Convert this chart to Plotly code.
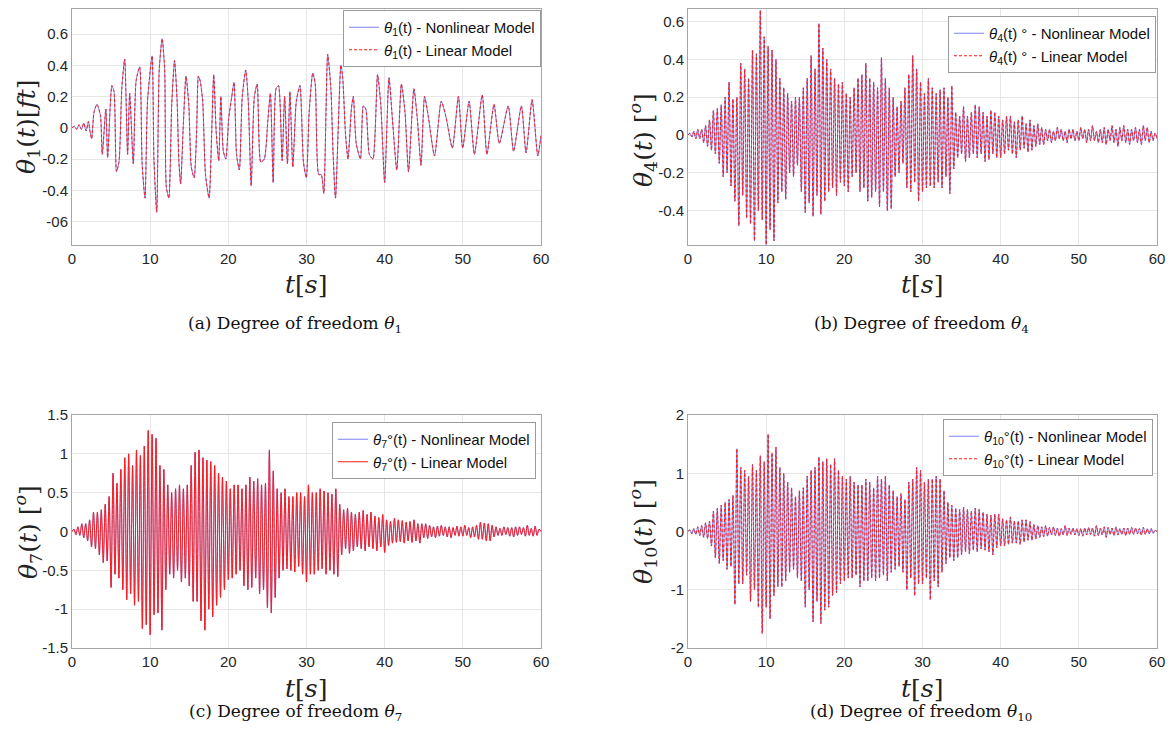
import numpy as np
import plotly.graph_objects as go

# ---------------- data ----------------
t_a = [0, 0.3, 0.6, 0.9, 1.2, 1.5, 1.8, 2.1, 2.3, 2.51,
       2.82, 3.19, 3.64, 3.87, 4.33, 4.56, 5.10, 5.38, 5.69, 6.01,
       6.38, 6.74, 7.11, 7.38, 7.84, 8.20, 8.66, 8.97, 9.34, 9.66,
       10.25, 10.48, 10.84, 11.16, 11.53, 11.85, 12.07, 12.39, 12.76, 13.12,
       13.44, 13.67, 13.90, 14.21, 14.58, 14.94, 15.26, 15.63, 15.95, 16.17,
       16.40, 16.72, 17.08, 17.54, 17.86, 18.13, 18.45, 18.77, 19.04, 19.36,
       19.68, 20.05, 20.41, 20.73, 21.05, 21.41, 21.78, 22.23, 22.55, 22.92,
       23.33, 23.69, 24.15, 24.60, 25.06, 25.38, 25.74, 26.10, 26.42, 26.88,
       27.20, 27.56, 27.88, 28.25, 28.70, 29.16, 29.61, 29.98, 30.34, 30.80,
       31.12, 31.57, 31.89, 32.21, 32.71, 33.12, 33.39, 33.71, 34.40, 34.62,
       34.99, 35.31, 35.76, 35.99, 36.36, 36.90, 37.27, 37.59, 38.04, 38.50,
       39.09, 39.50, 40.00, 40.55, 41.00, 41.55, 42.14, 42.60, 43.05, 43.74,
       44.19, 44.65, 45.10, 45.56, 46.38, 47.24, 47.84, 48.66, 49.43, 49.98,
       50.80, 51.48, 52.48, 53.08, 53.99, 54.67, 55.81, 56.49, 57.49, 58.09,
       58.86, 59.59, 60.0]
theta1 = [0, 0.01, -0.01, 0.02, -0.01, 0.03, -0.02, 0.04, -0.02, -0.07,
          0.10, 0.15, 0.08, -0.17, 0.12, -0.19, 0.27, 0.23, -0.28, -0.22,
          0.26, 0.44, -0.17, 0.22, -0.23, 0.30, 0.39, -0.23, -0.45, 0.17,
          0.46, -0.20, -0.54, 0.37, 0.57, 0.38, -0.38, -0.45, 0.15, 0.43,
          0.18, -0.21, -0.36, -0.02, 0.33, 0.15, -0.25, -0.32, -0.01, 0.33,
          0.30, 0.17, -0.30, -0.45, -0.05, 0.34, -0.03, -0.21, 0.20, -0.15,
          -0.20, 0.06, 0.19, 0.29, -0.17, -0.27, 0.20, 0.37, 0.17, -0.37,
          0.20, 0.28, -0.22, -0.20, 0.05, 0.22, -0.35, 0.25, 0.27, -0.21,
          0.20, -0.23, 0.23, -0.25, 0.17, 0.27, -0.22, -0.32, 0.10, 0.35,
          0.28, -0.30, -0.30, -0.42, 0.47, 0.25, -0.15, -0.45, 0.40, 0.33,
          -0.04, -0.20, 0.13, 0.20, -0.10, -0.20, 0.14, 0.12, -0.17, -0.20,
          0.34, 0.15, -0.35, 0.32, 0.05, -0.27, 0.28, 0.10, -0.28, 0.25,
          0.05, -0.24, 0.20, 0.08, -0.18, 0.17, 0.07, -0.13, 0.20, -0.13,
          0.17, -0.17, 0.21, -0.17, 0.15, -0.10, 0.14, -0.15, 0.14, -0.16,
          0.18, -0.18, -0.05]

# samples every 0.25 s (4 per second) for the dense responses
theta4 = [
    0, .01, -.01, .02,  -.02, .03, -.02, .03,  -.04, .05, -.06, .08,  -.08, .13, -.1, .14,
    -.15, .16, -.22, .2,  -.2, .28, -.27, .19,  -.35, .2, -.48, .38,  -.32, .35, -.44, .3,
    -.47, .45, -.56, .43,  -.4, .66, -.45, .52,  -.58, .47, -.5, .45,  -.56, .4, -.36, .3,
    -.3, .25, -.34, .22,  -.2, .18, -.22, .2,  -.16, .2, -.3, .25,  -.41, .3, -.36, .42,
    -.43, .35, -.32, .59,  -.42, .46, -.35, .4,  -.3, .35, -.28, .3,  -.32, .27, -.25, .28,
    -.27, .22, -.3, .2,  -.22, .25, -.2, .3,  -.3, .32, -.28, .38,  -.35, .3, -.33, .28,
    -.3, .25, -.38, .41,  -.3, .3, -.4, .25,  -.39, .2, -.22, .15,  -.2, .18, -.15, .25,
    -.28, .32, -.3, .42,  -.25, .35, -.35, .28,  -.3, .22, -.28, .3,  -.27, .25, -.28, .22,
    -.25, .24, -.28, .25,  -.22, .2, -.31, .26,  -.18, .12, -.12, .1,  -.1, .15, -.14, .1,
    -.12, .12, -.1, .16,  -.12, .15, -.1, .12,  -.14, .1, -.13, .13,  -.1, .12, -.12, .1,
    -.12, .08, -.1, .1,  -.08, .1, -.1, .07,  -.12, .08, -.08, .1,  -.07, .06, -.09, .08,
    -.08, .05, -.06, .06,  -.05, .04, -.05, .03,  -.03, .03, -.04, .02,  -.03, .04, -.02, .03,
    -.03, .02, -.04, .03,  -.02, .03, -.03, .02,  -.03, .04, -.02, .03,  -.04, .03, -.03, .05,
    -.03, .02, -.04, .03,  -.04, .04, -.05, .03,  -.03, .05, -.04, .03,  -.06, .04, -.03, .05,
    -.04, .03, -.05, .03,  -.03, .04, -.04, .03,  -.05, .05, -.03, .04,  -.04, .02, -.03, .01,
    -.02]

theta7 = [
    0, .03, -.04, .06,  -.05, .1, -.08, .1,  -.12, .15, -.2, .25,  -.22, .25, -.3, .28,
    -.4, .35, -.38, .45,  -.72, .75, -.55, .62,  -.6, .8, -.75, .95,  -.88, 1.0, -.8, .85,
    -.95, 1.05, -.9, .98,  -1.25, 1.1, -1.2, 1.3,  -1.33, 1.25, -1.07, 1.2,  -1.05, .85, -1.27, .8,
    -.75, .6, -.55, .5,  -.6, .55, -.5, .6,  -.65, .55, -.6, .6,  -.7, .85, -.9, 1.02,
    -.9, 1.05, -1.15, .95,  -1.27, .92, -1.0, .9,  -1.1, .85, -.95, .75,  -.85, .7, -.75, .65,
    -.62, .55, -.6, .6,  -.55, .6, -.5, .55,  -.7, .6, -.75, .7,  -.72, .65, -.6, .68,
    -.8, .6, -.75, .62,  -.98, 1.05, -1.05, .78,  -.85, .55, -.6, .5,  -.5, .55, -.48, .45,
    -.5, .45, -.52, .5,  -.45, .5, -.55, .45,  -.65, .6, -.55, .5,  -.55, .5, -.5, .55,
    -.48, .52, -.55, .5,  -.5, .48, -.55, .55,  -.58, .35, -.3, .28,  -.22, .3, -.28, .25,
    -.25, .22, -.2, .25,  -.22, .27, -.25, .22,  -.2, .25, -.22, .2,  -.25, .18, -.2, .22,
    -.27, .15, -.18, .13,  -.15, .17, -.14, .15,  -.13, .14, -.15, .12,  -.12, .13, -.14, .15,
    -.12, .1, -.15, .1,  -.08, .1, -.09, .08,  -.07, .06, -.08, .07,  -.06, .08, -.05, .06,
    -.07, .06, -.08, .05,  -.05, .07, -.06, .06,  -.06, .08, -.05, .05,  -.08, .06, -.07, .08,
    -.1, .12, -.1, .11,  -.12, .1, -.12, .08,  -.07, .06, -.05, .04,  -.05, .06, -.04, .05,
    -.06, .05, -.07, .06,  -.05, .06, -.04, .05,  -.06, .08, -.05, .04,  -.06, .07, -.05, .03,
    0]

theta10 = [
    0, .03, -.04, .05,  -.05, .08, -.07, .1,  -.1, .15, -.12, .18,  -.25, .35, -.45, .4,
    -.55, .45, -.5, .5,  -.65, .55, -.6, .62,  -1.25, 1.42, -.9, 1.1,  -.9, 1.05, -.75, .95,
    -1.2, 1.15, -1.0, 1.05,  -1.3, 1.3, -1.75, 1.2,  -1.3, 1.67, -1.5, 1.35,  -1.1, 1.45, -.95, 1.1,
    -.95, 1.0, -.85, .85,  -.7, .75, -.65, .6,  -.8, .7, -.85, .75,  -1.3, .95, -1.0, 1.05,
    -1.55, 1.1, -1.2, 1.28,  -1.58, 1.2, -1.35, 1.25,  -1.3, 1.15, -1.1, 1.25,  -1.05, 1.05, -.9, .95,
    -.85, .9, -.8, .95,  -.8, .85, -.75, .8,  -.95, .8, -.85, .9,  -.85, .85, -.8, .75,
    -.85, .95, -.8, .9,  -.75, .95, -.85, .8,  -.7, .7, -.65, .6,  -.6, .65, -.7, .55,
    -1.0, .85, -.8, .9,  -1.1, 1.1, -.9, 1.05,  -.9, .85, -.8, .9,  -1.17, .9, -.85, .95,
    -.95, .9, -.7, .7,  -.55, .5, -.45, .45,  -.5, .4, -.45, .38,  -.4, .42, -.35, .38,
    -.38, .35, -.32, .4,  -.35, .38, -.3, .33,  -.32, .3, -.35, .28,  -.4, .3, -.28, .3,
    -.25, .22, -.25, .2,  -.22, .25, -.2, .18,  -.2, .18, -.22, .2,  -.18, .2, -.15, .17,
    -.15, .12, -.13, .1,  -.1, .08, -.09, .1,  -.08, .07, -.06, .08,  -.07, .06, -.08, .05,
    -.06, .1, -.07, .06,  -.05, .06, -.06, .05,  -.07, .05, -.08, .06,  -.06, .07, -.05, .06,
    -.08, .1, -.07, .06,  -.06, .08, -.1, .07,  -.05, .06, -.07, .08,  -.06, .05, -.05, .06,
    -.07, .06, -.05, .07,  -.05, .06, -.04, .05,  -.06, .07, -.05, .05,  -.04, .05, -.03, .02,
    0]

x_ticks = [0, 10, 20, 30, 40, 50, 60]
y_ticks_a = [-0.6, -0.4, -0.2, 0, 0.2, 0.4, 0.6]
y_text_a = ["-06", "-0.4", "-0.2", "0", "0.2", "0.4", "0.6"]
y_ticks_b = [-0.4, -0.2, 0, 0.2, 0.4, 0.6]
y_text_b = ["-0.4", "-0.2", "0", "0.2", "0.4", "0.6"]
y_ticks_c = [-1.5, -1, -0.5, 0, 0.5, 1, 1.5]
y_text_c = ["-1.5", "-1", "-0.5", "0", "0.5", "1", "1.5"]
y_ticks_d = [-2, -1, 0, 1, 2]
y_text_d = ["-2", "-1", "0", "1", "2"]

# ---------------- figure ----------------
# the page body has an 8px margin, so the figure is drawn 8px in from the window corner
OFF = 8
W, H = 1166, 727
def px_x(p): return (p - OFF) / W
def px_y(p): return 1 - (p - OFF) / H

panels = [
    dict(k="", xd=(72, 541), yd=(9, 245), t=t_a, v=theta1,
         names=("<i>θ</i><sub>1</sub>(t) - Nonlinear Model", "<i>θ</i><sub>1</sub>(t) - Linear Model"),
         rng=[-0.75, 0.76], tv=y_ticks_a, tt=y_text_a, dash=True, leg=(541, 10), sm=0.6),
    dict(k="2", xd=(688, 1157), yd=(9, 245), t=None, v=theta4,
         names=("<i>θ</i><sub>4</sub>(t) ° - Nonlinear Model", "<i>θ</i><sub>4</sub>(t) ° - Linear Model"),
         rng=[-0.582, 0.667], tv=y_ticks_b, tt=y_text_b, dash=True, leg=(1156, 16), sm=0.8),
    dict(k="3", xd=(72, 541), yd=(415, 648), t=None, v=theta7,
         names=("<i>θ</i><sub>7</sub>°(t) - Nonlinear Model", "<i>θ</i><sub>7</sub>°(t) - Linear Model"),
         rng=[-1.5, 1.5], tv=y_ticks_c, tt=y_text_c, dash=False, leg=(536, 422), sm=0.8),
    dict(k="4", xd=(688, 1157), yd=(415, 648), t=None, v=theta10,
         names=("<i>θ</i><sub>10</sub>°(t) - Nonlinear Model", "<i>θ</i><sub>10</sub>°(t) - Linear Model"),
         rng=[-2, 2], tv=y_ticks_d, tt=y_text_d, dash=True, leg=(1153, 419), sm=0.8),
]

fig = go.Figure()
layout = dict(width=W, height=H, margin=dict(l=0, r=0, t=0, b=0, autoexpand=False),
              paper_bgcolor="white", plot_bgcolor="white", showlegend=True)

tick_font = dict(family="Liberation Sans, Arial, sans-serif", size=15, color="#262626")
grid_c = "#e6e6e6"
line_c = "#a6a6a6"

for p in panels:
    k = p["k"]
    tt = p["t"] if p["t"] is not None else list(np.arange(len(p["v"])) * 0.25)
    xa = "x" + k
    ya = "y" + k
    legname = "legend" + k
    fig.add_trace(go.Scatter(x=tt, y=p["v"], mode="lines", name=p["names"][0],
                             line=dict(color="rgba(105,110,235,0.85)", width=1, shape="spline", smoothing=p["sm"]),
                             xaxis=xa, yaxis=ya, legend=legname))
    fig.add_trace(go.Scatter(x=tt, y=p["v"], mode="lines", name=p["names"][1],
                             line=dict(color="#ff1a1a", width=1, shape="spline", smoothing=p["sm"],
                                       dash="3px,2px" if p["dash"] else "solid"),
                             xaxis=xa, yaxis=ya, legend=legname))
    xkey = "xaxis" + k
    ykey = "yaxis" + k
    layout[xkey] = dict(domain=[px_x(p["xd"][0]), px_x(p["xd"][1])], range=[0, 60],
                        tickvals=x_ticks, showgrid=True, gridcolor=grid_c, zeroline=False,
                        showline=True, mirror=True, linecolor=line_c, linewidth=1,
                        ticks="", tickfont=tick_font, anchor=ya, automargin=False)
    layout[ykey] = dict(domain=[px_y(p["yd"][1]), px_y(p["yd"][0])], range=p["rng"],
                        tickvals=p["tv"], ticktext=p["tt"], showgrid=True, gridcolor=grid_c,
                        zeroline=False, showline=True, mirror=True, linecolor=line_c, linewidth=1,
                        ticks="", tickfont=tick_font, anchor=xa, automargin=False)
    layout[legname] = dict(x=px_x(p["leg"][0]), y=px_y(p["leg"][1]), xanchor="right", yanchor="top",
                           bgcolor="white", bordercolor="#9a9a9a", borderwidth=1,
                           font=dict(family="Liberation Sans, Arial, sans-serif", size=15, color="#111"),
                           tracegroupgap=0, itemwidth=30)

fig.update_layout(**layout)

serif = "DejaVu Serif, Liberation Serif, serif"
ann = []
# x-axis titles
for cx, cy in [(306, 285), (922, 285), (306, 688), (922, 688)]:
    ann.append(dict(x=px_x(cx), y=px_y(cy), xref="paper", yref="paper", showarrow=False,
                    text="<i>t</i>[<i>s</i>]", font=dict(family=serif, size=25, color="#222"),
                    xanchor="center", yanchor="middle"))
# y-axis titles
ytitles = [(28, 127, "<i>θ</i><sub>1</sub>(<i>t</i>)[<i>ft</i>]"),
           (643, 140, "<i>θ</i><sub>4</sub>(<i>t</i>) [<sup><i>o</i></sup>]"),
           (28, 532, "<i>θ</i><sub>7</sub>(<i>t</i>) [<sup><i>o</i></sup>]"),
           (643, 532, "<i>θ</i><sub>10</sub>(<i>t</i>) [<sup><i>o</i></sup>]")]
for cx, cy, txt in ytitles:
    ann.append(dict(x=px_x(cx), y=px_y(cy), xref="paper", yref="paper", showarrow=False,
                    text=txt, textangle=-90, font=dict(family=serif, size=25, color="#222"),
                    xanchor="center", yanchor="middle"))
# captions
caps = [(295, 324, "(a) Degree of freedom <i>θ</i><sub>1</sub>"),
        (921, 324, "(b) Degree of freedom <i>θ</i><sub>4</sub>"),
        (295, 712, "(c) Degree of freedom <i>θ</i><sub>7</sub>"),
        (921, 712, "(d) Degree of freedom <i>θ</i><sub>10</sub>")]
for cx, cy, txt in caps:
    ann.append(dict(x=px_x(cx), y=px_y(cy), xref="paper", yref="paper", showarrow=False,
                    text=txt, font=dict(family=serif, size=17, color="#111"),
                    xanchor="center", yanchor="middle"))
fig.update_layout(annotations=ann)

fig.write_html("out.html")
